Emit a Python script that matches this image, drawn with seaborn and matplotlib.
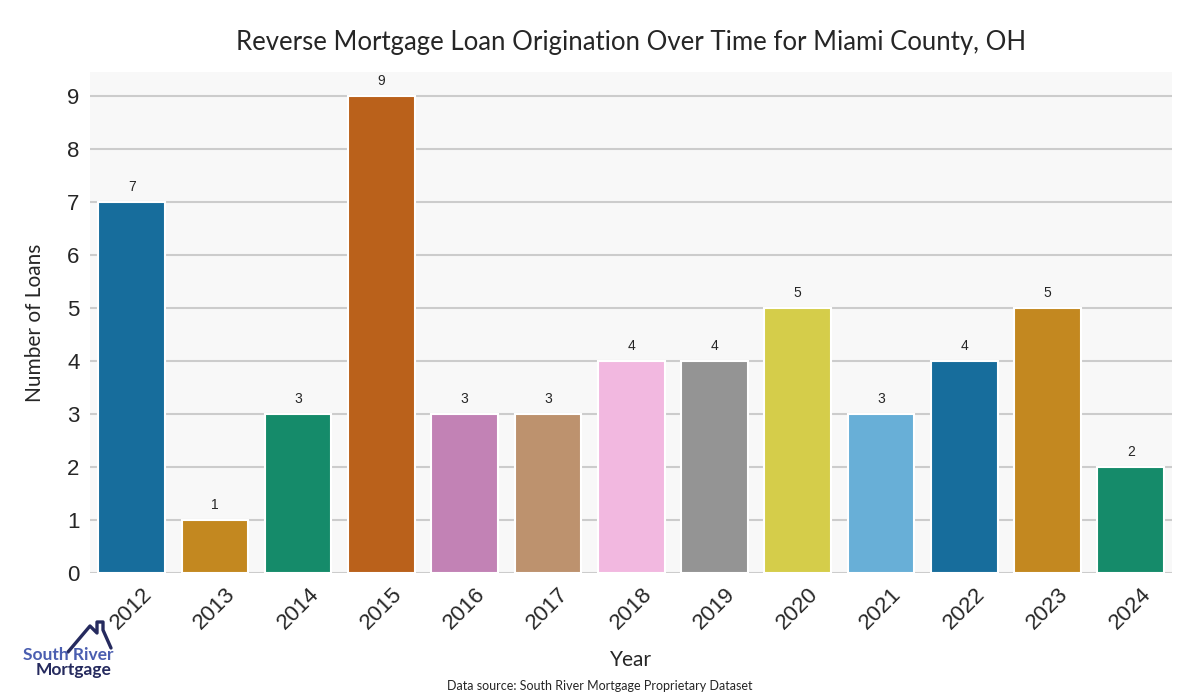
import matplotlib
matplotlib.use("Agg")
import matplotlib.pyplot as plt
import seaborn as sns
import pandas as pd
from matplotlib.lines import Line2D

years = ["2012", "2013", "2014", "2015", "2016", "2017", "2018",
         "2019", "2020", "2021", "2022", "2023", "2024"]
loans = [7, 1, 3, 9, 3, 3, 4, 4, 5, 3, 4, 5, 2]

df = pd.DataFrame({"Year": years, "Loans": loans})

sns.set_style("whitegrid", {"axes.facecolor": "#f8f8f8", "grid.color": "#cccccc",
                            "axes.edgecolor": "#f8f8f8"})
plt.rcParams["font.family"] = ["Lato", "DejaVu Sans"]

fig, ax = plt.subplots(figsize=(12, 7), dpi=100)
fig.subplots_adjust(left=0.075, right=0.977, top=0.897, bottom=0.181)

pal = sns.color_palette("colorblind", 10)
sns.barplot(data=df, x="Year", y="Loans", hue="Year", palette=pal[:10] + pal[:3],
            legend=False, edgecolor="white", linewidth=1.5, ax=ax)

for c in ax.containers:
    ax.bar_label(c, padding=6, fontsize=10, color="#262626", family="Liberation Sans")

ax.grid(axis="x", visible=False)
ax.grid(axis="y", linewidth=1.5)
ax.set_axisbelow(True)
for s in ax.spines.values():
    s.set_visible(False)

ax.set_title("Reverse Mortgage Loan Origination Over Time for Miami County, OH",
             fontsize=18.5, pad=16, color="#262626")
ax.set_xlabel("Year", fontsize=15, color="#262626", labelpad=12)
ax.set_ylabel("Number of Loans", fontsize=15, color="#262626", labelpad=16)
for lab in ax.get_xticklabels():
    lab.set_rotation(45)
    lab.set_fontfamily("Liberation Sans")
    lab.set_fontsize(16)
for lab in ax.get_yticklabels():
    lab.set_fontfamily("Liberation Sans")
    lab.set_fontsize(16)
ax.tick_params(axis="both", colors="#262626", pad=4)
ax.set_yticks(range(0, 10))

fig.text(0.5, 0.012, "Data source: South River Mortgage Proprietary Dataset",
         ha="center", va="bottom", fontsize=9, color="#262626")

# logo
navy = "#252a5e"
xs = [68, 90, 97, 97, 103, 103, 111]
ys = [652, 626, 633, 622, 622, 630, 648]
fig.add_artist(Line2D([x / 1200 for x in xs], [1 - y / 700 for y in ys],
                      color=navy, linewidth=2.4, transform=fig.transFigure))
fig.text(23 / 1200, 1 - 655 / 700, "South River", fontsize=12.5, color="#4a5eb0",
         fontweight="bold", ha="left", va="center")
fig.text(36 / 1200, 1 - 670 / 700, "Mortgage", fontsize=12.5, color=navy,
         fontweight="bold", ha="left", va="center")

fig.savefig("out.png")
